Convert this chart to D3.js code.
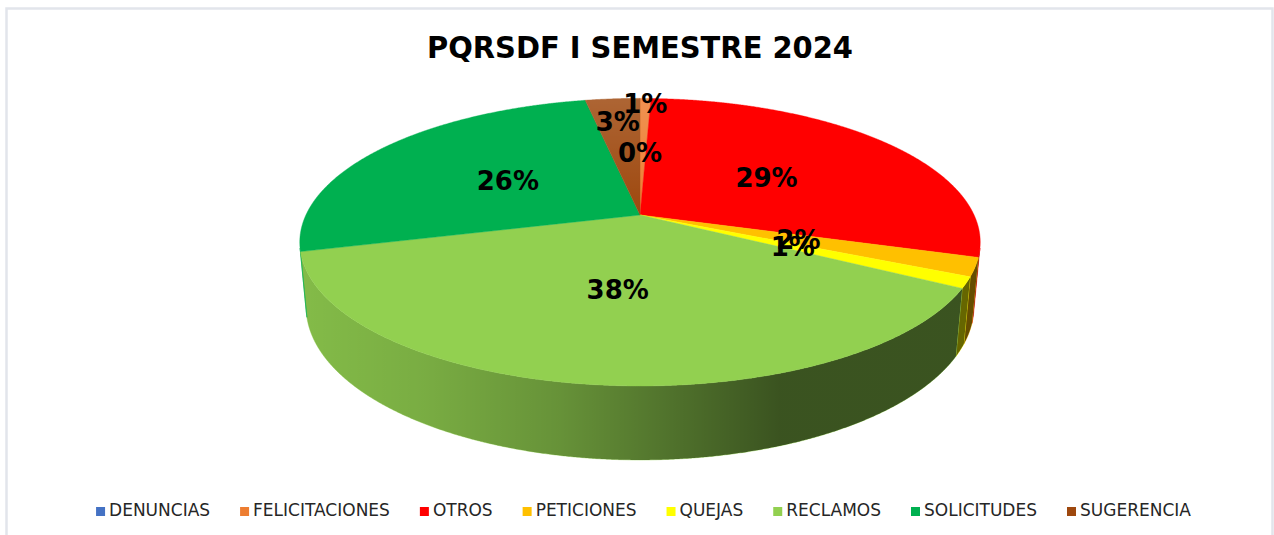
<!DOCTYPE html>
<html>
<head>
<meta charset="utf-8">
<script src="https://cdn.jsdelivr.net/npm/d3@7"></script>
<style>
  html, body { margin: 0; padding: 0; background: #fff; }
  svg { display: block; }
</style>
</head>
<body>
<svg id="chart" width="1274" height="535"></svg>
<script>
// ---- Data ----
const title = "PQRSDF I SEMESTRE 2024";
const categories = ["DENUNCIAS", "FELICITACIONES", "OTROS", "PETICIONES", "QUEJAS", "RECLAMOS", "SOLICITUDES", "SUGERENCIA"];
const values = [0, 3, 140, 10, 6, 183, 125, 15];
const colors = ["#4472C4", "#ED7D31", "#FF0000", "#FFC000", "#FFFF00", "#92D050", "#00B050", "#9E480E"];

// ---- Layout / style ----
const W = 1274, H = 535;
const cx = 640, cy = 215;          // pie vertex on screen
const elev = Math.asin(0.415);     // camera elevation
const Dcam = 4.81, F = 1607;       // perspective distance & focal
const thick = 0.212;               // pie height (unit radius)
const labelR = 0.49;
const labelROverride = { "FELICITACIONES": 0.95, "SUGERENCIA": 0.78 };
const topHighlight = { "SUGERENCIA": true, "FELICITACIONES": true };

const svg = d3.select("#chart");
const defs = svg.append("defs");

// border
svg.append("rect").attr("x", 6.5).attr("y", 8.5).attr("width", 1266).attr("height", 540)
  .attr("fill", "#fff").attr("stroke", "#E2E5EB").attr("stroke-width", 2.5);

const data = categories.map((c, i) => ({ name: c, value: values[i] }));
const total = d3.sum(values);
const color = d3.scaleOrdinal().domain(categories).range(colors);
const pie = d3.pie().sort(null).value(d => d.value);
const arcs = pie(data);

const ce = Math.cos(elev), se = Math.sin(elev);
function project(X, Y, Z) {
  const up = Y * ce - Z * se;
  const depth = Dcam - (Y * se + Z * ce);
  return [cx + F * X / depth, cy - F * up / depth];
}
function rimPoint(a, r, Y) {
  return project(r * Math.sin(a), Y, -r * Math.cos(a));
}

// visible wall range
const cosLim = -1 / (Dcam * ce);
const visA0 = Math.acos(cosLim);
const visA1 = 2 * Math.PI - visA0;

const step = Math.PI / 720;
function sampleAngles(a0, a1) {
  const n = Math.max(2, Math.ceil((a1 - a0) / step));
  return d3.range(n + 1).map(i => a0 + (a1 - a0) * i / n);
}

// gradient shading overlay for side walls
const grad = defs.append("linearGradient").attr("id", "wallShade")
  .attr("gradientUnits", "userSpaceOnUse")
  .attr("x1", cx - 340).attr("x2", cx + 345).attr("y1", 0).attr("y2", 0);
[[0, 0.1], [0.18, 0.17], [0.38, 0.3], [0.55, 0.46], [0.7, 0.6], [1, 0.6]].forEach(([o, op]) => {
  grad.append("stop").attr("offset", o).attr("stop-color", "#000").attr("stop-opacity", op);
});
// light highlight on top faces near the back rim
const hl = defs.append("linearGradient").attr("id", "topLight")
  .attr("gradientUnits", "userSpaceOnUse")
  .attr("x1", 0).attr("x2", 0).attr("y1", cy - 118).attr("y2", cy);
hl.append("stop").attr("offset", 0).attr("stop-color", "#fff").attr("stop-opacity", 0.16);
hl.append("stop").attr("offset", 1).attr("stop-color", "#fff").attr("stop-opacity", 0);

const line = d3.line();
const gWall = svg.append("g");
arcs.forEach(d => {
  const a0 = Math.max(d.startAngle, visA0), a1 = Math.min(d.endAngle, visA1);
  if (a1 <= a0) return;
  const angs = sampleAngles(a0, a1);
  const top = angs.map(a => rimPoint(a, 1, 0));
  const bot = angs.slice().reverse().map(a => rimPoint(a, 1, -thick));
  const p = line(top.concat(bot)) + "Z";
  gWall.append("path").attr("d", p).attr("fill", color(d.data.name)).attr("stroke", color(d.data.name)).attr("stroke-width", 0.5);
  gWall.append("path").attr("d", p).attr("fill", "url(#wallShade)");
});

// top faces
const gTop = svg.append("g");
arcs.forEach(d => {
  if (d.endAngle - d.startAngle <= 0) return;
  const angs = sampleAngles(d.startAngle, d.endAngle);
  const pts = [project(0, 0, 0)].concat(angs.map(a => rimPoint(a, 1, 0)));
  const p = line(pts) + "Z";
  gTop.append("path").attr("d", p)
    .attr("fill", color(d.data.name)).attr("stroke", color(d.data.name)).attr("stroke-width", 0.4);
  if (topHighlight[d.data.name]) gTop.append("path").attr("d", p).attr("fill", "url(#topLight)");
});

// labels
const gLab = svg.append("g");
arcs.forEach(d => {
  const m = (d.startAngle + d.endAngle) / 2;
  const r = labelROverride[d.data.name] !== undefined ? labelROverride[d.data.name] : labelR;
  const [x, y] = rimPoint(m, r, 0);
  gLab.append("text").attr("x", x).attr("y", y).attr("dy", "0.36em")
    .attr("text-anchor", "middle")
    .attr("font-family", "DejaVu Sans, Verdana, sans-serif").attr("font-weight", "bold")
    .attr("font-size", 26).attr("fill", "#000")
    .text(Math.round(d.value / total * 100) + "%");
});

// title
svg.append("text").attr("x", 640).attr("y", 58).attr("text-anchor", "middle")
  .attr("font-family", "DejaVu Sans, Verdana, sans-serif").attr("font-weight", "bold")
  .attr("font-size", 31).attr("textLength", 426).attr("lengthAdjust", "spacingAndGlyphs")
  .attr("fill", "#000").text(title);

// legend
const gLeg = svg.append("g");
const items = categories.map(c => {
  const g = gLeg.append("g");
  g.append("rect").attr("width", 9).attr("height", 9).attr("y", -9).attr("fill", color(c));
  const t = g.append("text").attr("x", 13).attr("y", 0)
    .attr("font-family", "DejaVu Sans, Verdana, sans-serif").attr("font-size", 17)
    .attr("fill", "#262626").text(c);
  return { g, w: 13 + t.node().getComputedTextLength() };
});
const gap = 30;
const totalW = d3.sum(items, d => d.w) + gap * (items.length - 1);
let lx = 643.5 - totalW / 2;
items.forEach(it => {
  it.g.attr("transform", `translate(${lx},516)`);
  lx += it.w + gap;
});
</script>
</body>
</html>
